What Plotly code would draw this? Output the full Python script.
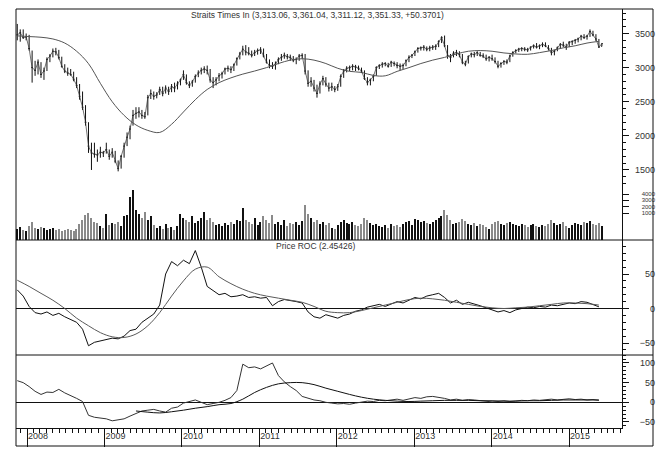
import pandas as pd
import plotly.graph_objects as go

W, H = 656, 449

# ---------------- data ----------------
# bi-weekly bars of the Straits Times Index
bar_dates = pd.date_range("2007-11-16", periods=198, freq="14D")

high = [
    3640, 3560, 3560, 3500, 3480, 3250, 3100, 3120, 3080, 3000,
    3150, 3200, 3280, 3290, 3260, 3160, 3050, 3000, 2980, 2940,
    2860, 2760, 2650, 2450, 2200, 1900, 1900, 1800, 1840, 1780,
    1900, 1800, 1820, 1780, 1640, 1720, 1900, 2050, 2150, 2380,
    2420, 2420, 2380, 2350, 2600, 2680, 2650, 2640, 2720, 2720,
    2740, 2720, 2760, 2780, 2800, 2840, 2960, 2900, 2800, 2820,
    2900, 2960, 3000, 3020, 3030, 2980, 2860, 2860, 2920, 2940,
    3000, 3030, 3020, 3060, 3150, 3230, 3320, 3330, 3300, 3250,
    3260, 3280, 3300, 3280, 3200, 3120, 3080, 3090, 3150, 3200,
    3220, 3200, 3190, 3170, 3150, 3200, 3210, 3200, 2960, 2860,
    2820, 2750, 2800, 2880, 2860, 2780, 2780, 2730, 2760, 2900,
    2980, 3020, 3030, 3050, 3040, 3030, 3000, 2960, 2860, 2840,
    2900, 3020, 3050, 3080, 3080, 3070, 3100, 3090, 3080, 3060,
    3060, 3120, 3180, 3200, 3250, 3300, 3310, 3330, 3310, 3320,
    3330, 3340, 3400, 3460, 3470, 3330, 3200, 3240, 3260, 3240,
    3200, 3100, 3180, 3220, 3230, 3240, 3230, 3210, 3190, 3170,
    3190, 3150, 3100, 3080, 3110, 3120, 3190, 3240, 3270, 3290,
    3300, 3300, 3290, 3310, 3340, 3360, 3340, 3370, 3370, 3330,
    3290, 3260, 3310, 3360, 3380, 3350, 3390, 3400, 3420, 3440,
    3480, 3490, 3480, 3560, 3540, 3490, 3420, 3361.04,
]
low = [
    3400, 3380, 3420, 3400, 3250, 2780, 2880, 2900, 2850, 2820,
    2950, 3080, 3150, 3180, 3120, 3000, 2920, 2880, 2880, 2800,
    2700, 2530, 2380, 2150, 1750, 1500, 1680, 1620, 1680, 1690,
    1740, 1650, 1680, 1600, 1480, 1520, 1680, 1850, 1950, 2150,
    2250, 2270, 2250, 2250, 2300, 2540, 2530, 2550, 2600, 2580,
    2620, 2600, 2640, 2640, 2680, 2740, 2820, 2750, 2700, 2720,
    2780, 2860, 2900, 2920, 2900, 2780, 2700, 2740, 2800, 2840,
    2900, 2940, 2920, 2950, 3030, 3120, 3180, 3180, 3180, 3150,
    3170, 3190, 3200, 3150, 3060, 2990, 2980, 2970, 3050, 3100,
    3130, 3120, 3100, 3080, 3050, 3100, 3130, 2900, 2720, 2720,
    2650, 2560, 2620, 2740, 2720, 2650, 2660, 2640, 2660, 2720,
    2850, 2930, 2950, 2960, 2950, 2960, 2920, 2820, 2740, 2740,
    2800, 2880, 2980, 3000, 3020, 3000, 3010, 3020, 2990, 2960,
    2980, 3020, 3080, 3140, 3170, 3220, 3250, 3250, 3240, 3240,
    3260, 3260, 3300, 3360, 3300, 3130, 3080, 3150, 3170, 3150,
    3050, 3020, 3060, 3150, 3150, 3170, 3160, 3140, 3100, 3090,
    3100, 3060, 2990, 3000, 3040, 3050, 3080, 3160, 3210, 3230,
    3240, 3240, 3230, 3250, 3280, 3280, 3270, 3300, 3300, 3250,
    3180, 3180, 3240, 3280, 3300, 3260, 3300, 3330, 3350, 3370,
    3400, 3420, 3410, 3450, 3460, 3390, 3290, 3311.12,
]
close = [
    3480, 3510, 3440, 3450, 3280, 3000, 2960, 3080, 2900, 2950,
    3120, 3170, 3240, 3230, 3150, 3020, 2950, 2920, 2900, 2830,
    2740, 2580, 2420, 2200, 1850, 1750, 1730, 1720, 1760, 1750,
    1800, 1700, 1760, 1630, 1520, 1700, 1850, 1980, 2100, 2300,
    2330, 2350, 2300, 2280, 2560, 2620, 2580, 2600, 2680, 2620,
    2700, 2650, 2720, 2700, 2760, 2820, 2900, 2780, 2740, 2790,
    2870, 2920, 2960, 2980, 2960, 2820, 2780, 2820, 2880, 2910,
    2980, 2990, 2970, 3040, 3130, 3200, 3270, 3230, 3210, 3180,
    3220, 3250, 3260, 3170, 3080, 3030, 3020, 3050, 3120, 3150,
    3180, 3160, 3150, 3110, 3120, 3170, 3180, 2950, 2770, 2800,
    2700, 2620, 2760, 2840, 2760, 2700, 2720, 2680, 2720, 2870,
    2950, 2990, 3000, 3020, 3010, 2990, 2950, 2840, 2780, 2820,
    2870, 3000, 3030, 3050, 3060, 3020, 3080, 3060, 3030, 3020,
    3030, 3100, 3150, 3180, 3230, 3280, 3290, 3300, 3270, 3290,
    3300, 3310, 3380, 3440, 3320, 3180, 3150, 3210, 3220, 3190,
    3080, 3050, 3160, 3200, 3190, 3220, 3180, 3170, 3130, 3150,
    3130, 3090, 3020, 3060, 3090, 3080, 3170, 3220, 3250, 3270,
    3280, 3270, 3260, 3300, 3320, 3300, 3320, 3340, 3320, 3280,
    3220, 3240, 3290, 3340, 3330, 3300, 3370, 3380, 3400, 3420,
    3460, 3440, 3460, 3530, 3480, 3420, 3300.96, 3351.33,
]
last_open = 3313.06
last_change = 50.3701

# volume, measured up from the floor of the volume strip
volume = [
    1740, 2050, 1580, 1420, 2210, 2840,
    1900, 1740, 2050, 1900, 1580, 1740, 1900, 1580, 1740, 1420, 1580, 1740, 1580, 1420, 1740,
    2530, 3160, 3950, 4270, 3480, 2840, 2690, 2210, 1900, 4110,
    2370, 2690, 2530, 2840, 2210, 3790, 3950, 6790, 7900, 4740,
    4110, 3480, 4420, 3160, 3790,
    2370, 1900, 2210, 1740, 2530, 1900, 2050, 1580, 2210,
    4110, 3480, 3160, 2840, 3790, 2690, 3000, 3480, 4420, 3160,
    3480, 2840, 2370, 2530, 2210, 2690, 2370, 2840, 2530, 3160, 3000,
    5060,
    3160, 2840, 2530, 3480, 2370, 2840, 3790, 3160, 2690, 3950, 2530, 2840, 2370, 3160, 2210, 2690, 2530, 2840, 2370,
    3000, 5530,
    4110, 3480, 2840, 3160, 2530, 2840, 2370, 2690, 1900,
    1740, 2370, 2840, 3160, 2690, 2530, 2840, 2370, 2210, 2530, 3480, 3160, 2690, 2370,
    2530, 2210, 2050, 2370, 1900, 2530, 2210, 2370, 2050, 2530, 2840, 3000, 2370, 3320,
    3160, 2840, 3000, 2690, 2530, 2840, 3160, 3480, 3790, 4740, 3950, 3160, 2530, 2690, 2840, 3320,
    3000, 2530, 2370, 2690, 2210, 2530, 2370, 2050, 1740, 2530, 2840, 3000, 2530, 2370, 2690,
    2840, 2530, 2370, 2210, 2530, 2370, 2050, 2370, 2530, 2210, 2050, 2370, 2210, 2530, 3160, 2690,
    2370, 2530, 2840, 2210, 1900, 2370, 2690, 2530, 2370, 2840, 2690, 3000, 2530, 2370, 2690, 2210,
]

# moving average of the index, sampled every eight weeks
ma_dates = pd.date_range("2007-11-16", periods=50, freq="56D")
price_ma = [
    3465, 3455, 3445, 3420, 3360, 3240, 3058, 2770, 2500, 2300,
    2160, 2080, 2050, 2170, 2350, 2530, 2680, 2780, 2850, 2905,
    2950, 3000, 3060, 3110, 3130, 3110, 3060, 2990, 2945, 2930,
    2885, 2880, 2945, 3000, 3060, 3110, 3150, 3200, 3240, 3250,
    3240, 3215, 3200, 3195, 3220, 3250, 3290, 3320, 3360, 3385,
]

# rate-of-change series, sampled every four weeks
roc_dates = pd.date_range("2007-11-16", periods=99, freq="28D")
roc_52 = [
    27, 18, 3, -6, -8, -5, -10, -7, -12, -16,
    -20, -30, -54, -49, -47, -45, -43, -44, -40, -32,
    -30, -20, -14, -8, 5, 50, 68, 62, 70, 65,
    84, 60, 32, 26, 20, 22, 17, 18, 20, 16,
    17, 15, 16, 4, 10, 13, 12, 10, 8, -5,
    -12, -14, -9, -12, -14, -10, -8, -4, -2, 2,
    4, 6, 3, 7, 10, 8, 12, 16, 14, 18,
    20, 22, 16, 8, 12, 6, 9, 7, 4, 1,
    -2, -5, -3, -6, -2, 0, 2, 1, 3, 2,
    5, 4, 6, 8, 7, 10, 9, 6, 2.45426,
]
roc_52_ma = [
    41, 32, 22, 12, 0, -14, -25, -35, -41, -42,
    -37, -25, -6, 18, 40, 57, 60, 46, 36, 28,
    22, 18, 15, 12, 9, 3, -4, -6, -6, -3,
    1, 5, 9, 13, 15, 14, 12, 9, 6, 3,
    1, 0, 1, 2, 4, 6, 8, 8, 7, 5,
]
roc_104 = [
    55, 50, 40, 28, 20, 26, 25, 33, 24, 18,
    10, 2, -33, -38, -40, -42, -47, -44, -42, -35,
    -28, -22, -20, -18, -22, -25, -15, -12, -2, 3,
    6, 0, -6, -3, 0, 5, 12, 30, 97, 88,
    90, 85, 92, 100, 68, 52, 40, 30, 15, 10,
    6, 4, 0, -2, -4, -3, -5, -2, 0, 3,
    2, 5, 4, 6, 8, 5, 9, 12, 10, 14,
    15, 13, 10, 6, 8, 5, 7, 6, 4, 3,
    1, 2, 4, 2, 3, 5, 4, 6, 5, 7,
    8, 6, 8, 9, 7, 8, 6, 7, 5,
]
roc_104_ma = [
    None, None, None, None, None, None, None, None, None, None,
    -22, -25, -27, -24, -20, -15, -11, -6, -3, 8,
    25, 38, 47, 50, 50, 45, 36, 28, 20, 13,
    8, 5, 3, 2, 3, 4, 5, 5, 5, 4,
    4, 3, 3, 4, 4, 5, 6, 6, 6, 6,
]

# ---------------- layout helpers ----------------
def fx(px):
    return px / W


def fy(px):
    return 1 - px / H


FONT = "Liberation Sans, Arial, sans-serif"
INK = "#111111"
LABEL = dict(family=FONT, size=9, color="#333333")
SMALL_LABEL = dict(family=FONT, size=6, color="#333333")

open_ = list(close)
open_[-1] = last_open
vol_colors = [INK] + [INK if close[i] >= close[i - 1] else "#8a8a8a" for i in range(1, len(close))]

fig = go.Figure()

fig.add_trace(go.Ohlc(
    x=bar_dates, open=open_, high=high, low=low, close=close,
    increasing=dict(line=dict(color=INK, width=1)),
    decreasing=dict(line=dict(color=INK, width=1)),
    tickwidth=0.3, xaxis="x", yaxis="y", hoverinfo="skip",
))
fig.add_trace(go.Scatter(
    x=bar_dates, y=close, mode="lines", line=dict(color="#333333", width=0.7),
    xaxis="x", yaxis="y", hoverinfo="skip",
))
fig.add_trace(go.Scatter(
    x=ma_dates, y=price_ma, mode="lines", line=dict(color="#555555", width=1, shape="spline"),
    xaxis="x", yaxis="y", hoverinfo="skip",
))

VOL_RANGE = [-3263, 4947]
fig.add_trace(go.Bar(
    x=bar_dates, y=volume, base=VOL_RANGE[0], marker=dict(color=vol_colors, line=dict(width=0)),
    width=1000 * 3600 * 24 * 6, xaxis="x", yaxis="y3", hoverinfo="skip",
))

fig.add_trace(go.Scatter(
    x=roc_dates, y=roc_52, mode="lines", line=dict(color=INK, width=1),
    xaxis="x", yaxis="y5", hoverinfo="skip",
))
fig.add_trace(go.Scatter(
    x=ma_dates, y=roc_52_ma, mode="lines", line=dict(color="#5a5a5a", width=1, shape="spline"),
    xaxis="x", yaxis="y5", hoverinfo="skip",
))
fig.add_trace(go.Scatter(
    x=roc_dates, y=roc_104, mode="lines", line=dict(color="#333333", width=1),
    xaxis="x", yaxis="y7", hoverinfo="skip",
))
fig.add_trace(go.Scatter(
    x=ma_dates, y=roc_104_ma, mode="lines", line=dict(color=INK, width=1, shape="spline"),
    xaxis="x", yaxis="y7", hoverinfo="skip",
))

# empty traces so the right-aligned label axes get drawn
for yid in ("y2", "y4", "y6", "y8"):
    fig.add_trace(go.Scatter(x=[bar_dates[0]], y=[None], mode="lines",
                             xaxis="x", yaxis=yid, hoverinfo="skip"))

X_DOMAIN = [fx(16), fx(622)]
PRICE_RANGE = [1236, 3859]
ROC1_RANGE = [-67.4, 99.3]
ROC2_RANGE = [-65.3, 120.3]


def tick_axis(domain, rng, dtick=None, tickvals=None, minor=None, zero=False):
    ax = dict(
        domain=domain, range=rng, side="right", anchor="x",
        showline=True, linecolor=INK, linewidth=1,
        ticks="outside", ticklen=6, tickcolor=INK, showticklabels=False,
        showgrid=False, zeroline=zero, zerolinecolor=INK, zerolinewidth=1,
        fixedrange=True,
    )
    if dtick is not None:
        ax.update(dtick=dtick, tick0=0)
    if tickvals is not None:
        ax.update(tickmode="array", tickvals=tickvals)
    if minor is not None:
        ax["minor"] = dict(dtick=minor, tick0=0, ticks="outside", ticklen=3, tickcolor=INK, showgrid=False)
    return ax


def label_axis(over, rng, dtick=None, tickvals=None, font=LABEL):
    ax = dict(
        overlaying=over, range=rng, side="left", anchor="free", position=fx(655),
        showline=False, ticks="", showgrid=False, zeroline=False,
        tickfont=font, showticklabels=True, fixedrange=True,
    )
    if dtick is not None:
        ax.update(dtick=dtick, tick0=0)
    if tickvals is not None:
        ax.update(tickmode="array", tickvals=tickvals)
    return ax


fig.update_layout(
    width=W, height=H,
    margin=dict(l=0, r=0, t=0, b=0),
    paper_bgcolor="white", plot_bgcolor="white",
    showlegend=False,
    bargap=0,
    xaxis=dict(
        domain=X_DOMAIN, anchor="y7", type="date",
        range=["2007-11-10", "2015-09-08"],
        tick0="2008-01-01", dtick="M12", tickformat="%Y",
        ticks="outside", ticklen=18, tickcolor=INK,
        ticklabelposition="outside right", ticklabelstandoff=-1,
        tickfont=LABEL, showline=True, linecolor=INK,
        showgrid=False, zeroline=False, fixedrange=True,
        rangeslider=dict(visible=False),
        minor=dict(dtick="M1", tick0="2008-01-01", ticks="outside", ticklen=4, tickcolor=INK, showgrid=False),
    ),
    yaxis=tick_axis([fy(188), fy(9)], PRICE_RANGE, dtick=500, minor=100),
    yaxis2=label_axis("y", PRICE_RANGE, dtick=500),
    yaxis3=tick_axis([fy(240), fy(188)], VOL_RANGE, tickvals=[1000, 2000, 3000, 4000]),
    yaxis4=label_axis("y3", VOL_RANGE, tickvals=[1000, 2000, 3000, 4000], font=SMALL_LABEL),
    yaxis5=tick_axis([fy(355), fy(240)], ROC1_RANGE, dtick=50, minor=10, zero=True),
    yaxis6=label_axis("y5", ROC1_RANGE, dtick=50),
    yaxis7=tick_axis([fy(428), fy(355)], ROC2_RANGE, dtick=50, minor=10, zero=True),
    yaxis8=label_axis("y7", ROC2_RANGE, dtick=50),
)

frame = dict(color=INK, width=1)
shapes = [
    dict(type="rect", xref="paper", yref="paper", x0=fx(16), x1=fx(653), y0=fy(446), y1=fy(9), line=frame),
    dict(type="line", xref="paper", yref="paper", x0=fx(16), x1=fx(653), y0=fy(240), y1=fy(240), line=frame),
    dict(type="line", xref="paper", yref="paper", x0=fx(16), x1=fx(653), y0=fy(355), y1=fy(355), line=frame),
]
fig.update_layout(shapes=shapes)

TITLE_FONT = dict(family=FONT, size=8.5, color="#333333")
title = "Straits Times In ({:,.2f}, {:,.2f}, {:,.2f}, {:,.2f}, +{:.4f})".format(
    last_open, high[-1], low[-1], close[-1], last_change)
fig.add_annotation(text=title, x=fx(317), y=fy(15), xref="paper", yref="paper",
                   showarrow=False, font=TITLE_FONT, xanchor="center", yanchor="middle")
fig.add_annotation(text="Price ROC ({:g})".format(roc_52[-1]), x=fx(316), y=fy(246),
                   xref="paper", yref="paper", showarrow=False, font=TITLE_FONT,
                   xanchor="center", yanchor="middle")

fig.write_html("out.html")
